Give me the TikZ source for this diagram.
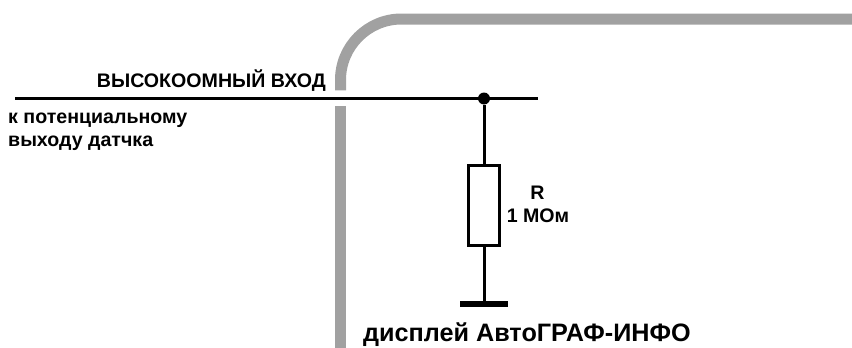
\documentclass[tikz,border=0pt]{standalone}
\usepackage{fontspec}
\setmainfont{Liberation Sans}
\begin{document}
\begin{tikzpicture}[x=1pt,y=-1pt,
  wall/.style={draw=black!37,line width=11pt},
  wire/.style={draw=black,line width=3pt},
  lab/.style={inner sep=0pt,font=\bfseries\fontsize{19.6}{24}\selectfont,text=black},
  big/.style={inner sep=0pt,font=\bfseries\fontsize{25.2}{30}\selectfont,text=black}]
\useasboundingbox (0,0) rectangle (852,348);
\coordinate (wallTop) at (340.5,90.3);
\coordinate (wallEnd) at (852,19);
\coordinate (wallLow) at (340.5,106.3);
\coordinate (wallBot) at (340.5,348);
\draw[wall] (wallTop) -- (340.5,80) arc[start angle=180,end angle=90,radius=61pt] -- (wallEnd);
\draw[wall] (wallLow) -- (wallBot);
\coordinate (inL) at (15,98.5);
\coordinate (inR) at (538,98.5);
\node[circle,fill=black,minimum size=12pt,inner sep=0pt] (dot) at (484,98.5) {};
\node[draw=black,line width=3pt,fill=white,minimum width=31.5pt,minimum height=80pt,inner sep=0pt] (res) at (484,205.5) {};
\coordinate (gnd) at (484,304);
\draw[wire] (inL) -- (inR);
\draw[wire] (dot) -- (res.north);
\draw[wire] (res.south) -- (gnd);
\coordinate (gL) at (460,304);
\coordinate (gR) at (508,304);
\draw[draw=black,line width=5.5pt] (gL) -- (gR);
\node[lab,anchor=base east] (hi) at (326,87) {ВЫСОКООМНЫЙ ВХОД};
\node[lab,anchor=base west] (s1) at (8,123) {к потенциальному};
\node[lab,anchor=base west] (s2) at (8,146.5) {выходу датчка};
\node[lab,anchor=base] (r) at (537.5,199.5) {R};
\node[lab,anchor=base] (v) at (538,222) {1 МОм};
\node[big,anchor=base west] (d) at (363,341.5) {дисплей АвтоГРАФ-ИНФО};
\end{tikzpicture}
\end{document}
